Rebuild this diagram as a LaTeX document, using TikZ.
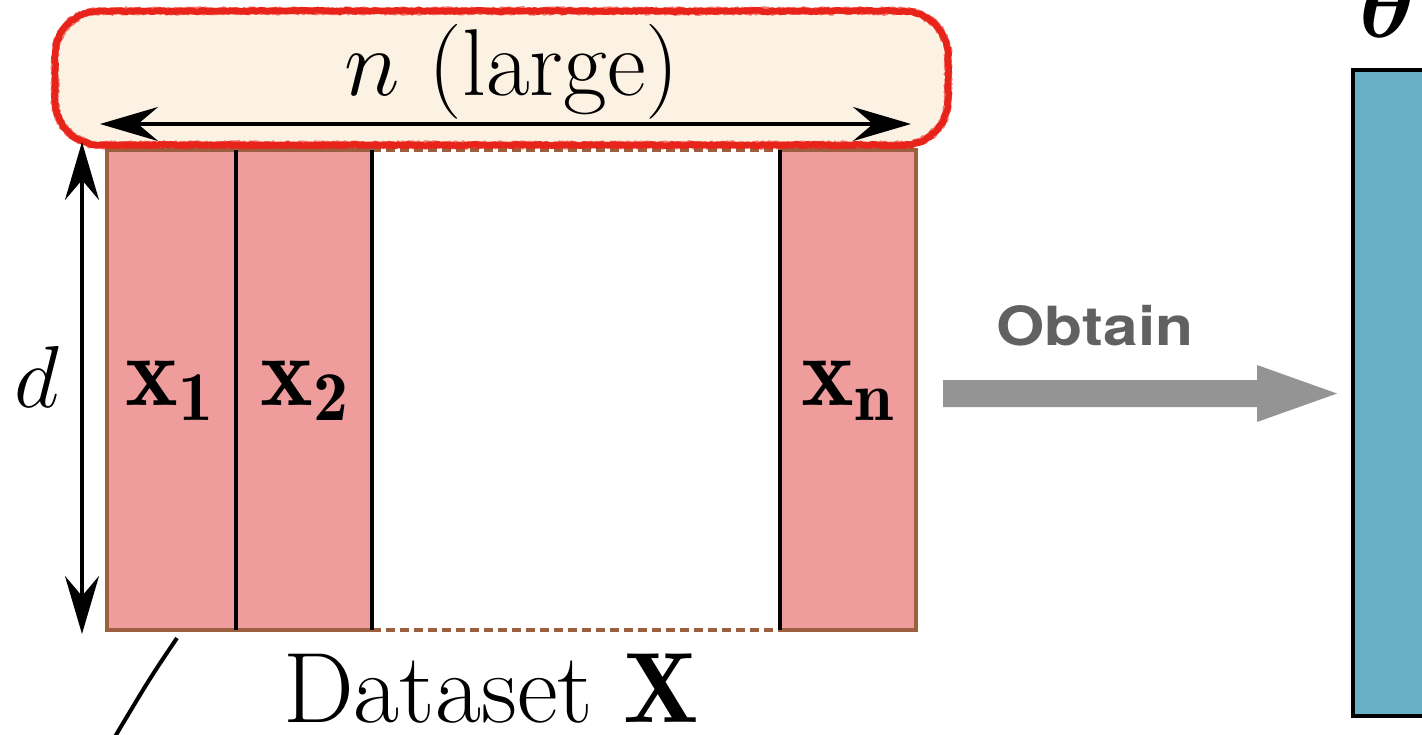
\RequirePackage{fix-cm}
\documentclass[tikz,border=0pt]{standalone}
\usepackage{amsmath,bm}
\usepackage{fontspec}
\usetikzlibrary{arrows.meta,decorations.pathmorphing}
\newfontfamily\heros{TeX Gyre Heros}
\definecolor{pinkcol}{HTML}{EE9C9C}
\definecolor{browncol}{HTML}{9C5F3F}
\definecolor{creamcol}{HTML}{FCF2E4}
\definecolor{redcol}{HTML}{E8231A}
\definecolor{bluecol}{HTML}{68B0C6}
\definecolor{grayarrow}{HTML}{949494}
\definecolor{graytext}{HTML}{616161}
\begin{document}
\begin{tikzpicture}[x=1pt,y=-1pt,
  lbl/.style={inner sep=0pt, font=\fontsize{100}{120}\selectfont},
  lblsmall/.style={inner sep=0pt, font=\fontsize{95}{114}\selectfont},
  dimarrow/.style={line width=3.5pt, {Stealth[length=58pt,width=34pt,inset=20pt]}-{Stealth[length=58pt,width=34pt,inset=20pt]}},
  colline/.style={line width=3.5pt, black},
  edge/.style={browncol, line width=3.5pt},
  roughred/.style={draw=redcol, line width=6.5pt, line join=round, line cap=round, decorate, decoration={random steps, segment length=3pt, amplitude=0.7pt}},
  roughredthin/.style={draw=redcol, line width=1.5pt, line join=round, opacity=0.6, decorate, decoration={random steps, segment length=2pt, amplitude=1.1pt}}]
\useasboundingbox (0,0) rectangle (1422,734);
% dataset columns
\fill[pinkcol] (107,150) rectangle (372,630);
\fill[pinkcol] (780,150) rectangle (916,630);
\draw[edge] (372,150) -- (107,150) -- (107,630) -- (372,630);
\draw[edge] (780,150) -- (916,150) -- (916,630) -- (780,630);
\draw[edge, dash pattern=on 9pt off 5pt] (372,150) -- (780,150);
\draw[edge, dash pattern=on 9pt off 5pt] (372,630) -- (780,630);
\draw[colline] (236,150) -- (236,630);
\draw[colline] (372,150) -- (372,630);
\draw[colline] (780,150) -- (780,630);
% red highlighted box
\fill[creamcol] (100,11) -- (903,11) .. controls (928,11) and (948,31) .. (948,56) -- (948,100) .. controls (948,125) and (928,145) .. (903,145) -- (100,145) .. controls (75,145) and (55,125) .. (55,100) -- (55,56) .. controls (55,31) and (75,11) .. (100,11) -- cycle;
\draw[roughred] (100,11) -- (903,11) .. controls (928,11) and (948,31) .. (948,56) -- (948,100) .. controls (948,125) and (928,145) .. (903,145) -- (100,145) .. controls (75,145) and (55,125) .. (55,100) -- (55,56) .. controls (55,31) and (75,11) .. (100,11) -- cycle;
\draw[roughredthin] (100,8) -- (903,8) .. controls (930,8) and (951,29) .. (951,56) -- (951,100) .. controls (951,127) and (930,148) .. (903,148) -- (100,148) .. controls (73,148) and (52,127) .. (52,100) -- (52,56) .. controls (52,29) and (73,8) .. (100,8) -- cycle;
\draw[roughredthin] (100,14) -- (903,14) .. controls (926,14) and (945,33) .. (945,56) -- (945,100) .. controls (945,123) and (926,142) .. (903,142) -- (100,142) .. controls (77,142) and (58,123) .. (58,100) -- (58,56) .. controls (58,33) and (77,14) .. (100,14) -- cycle;
% blue parameter block
\draw[fill=bluecol, line width=3.5pt] (1353,70) rectangle (1440,716);
% coordinates for arrows
\coordinate (nL) at (100,124);
\coordinate (nR) at (911,124);
\coordinate (dT) at (82,142);
\coordinate (dB) at (82,634);
\draw[dimarrow] (nL) -- (nR);
\draw[dimarrow] (dT) -- (dB);
% gray Obtain arrow
\fill[grayarrow] (943,380) -- (1257,380) -- (1257,365) -- (1337,393.5) -- (1257,422) -- (1257,407) -- (943,407) -- cycle;
% slanted line
\coordinate (s1) at (177,638);
\coordinate (s2) at (113,740);
\draw[line width=4pt] (s1) .. controls (150,678) .. (s2);
% labels
\node[lblsmall, anchor=base] (nlarge) at (512,95) {$n$ (large)};
\node[inner sep=0pt, anchor=base, font=\fontsize{88}{106}\selectfont] (d) at (37,407) {$d$};
\node[lbl, anchor=base] (x1) at (170,405) {$\mathbf{x_1}$};
\node[lbl, anchor=base] (x2) at (305,405) {$\mathbf{x_2}$};
\node[lbl, anchor=base] (xn) at (848,405) {$\mathbf{x_n}$};
\node[lbl, anchor=base] (dataset) at (491,722) {Dataset $\mathbf{X}$};
\node[inner sep=0pt, anchor=base, text=graytext, xscale=1.15, transform shape, font=\heros\bfseries\fontsize{54}{60}\selectfont] (obtain) at (1095,345) {Obtain};
\node[lblsmall, anchor=base] (theta) at (1388,37) {$\bm{\theta}$};
\end{tikzpicture}
\end{document}
